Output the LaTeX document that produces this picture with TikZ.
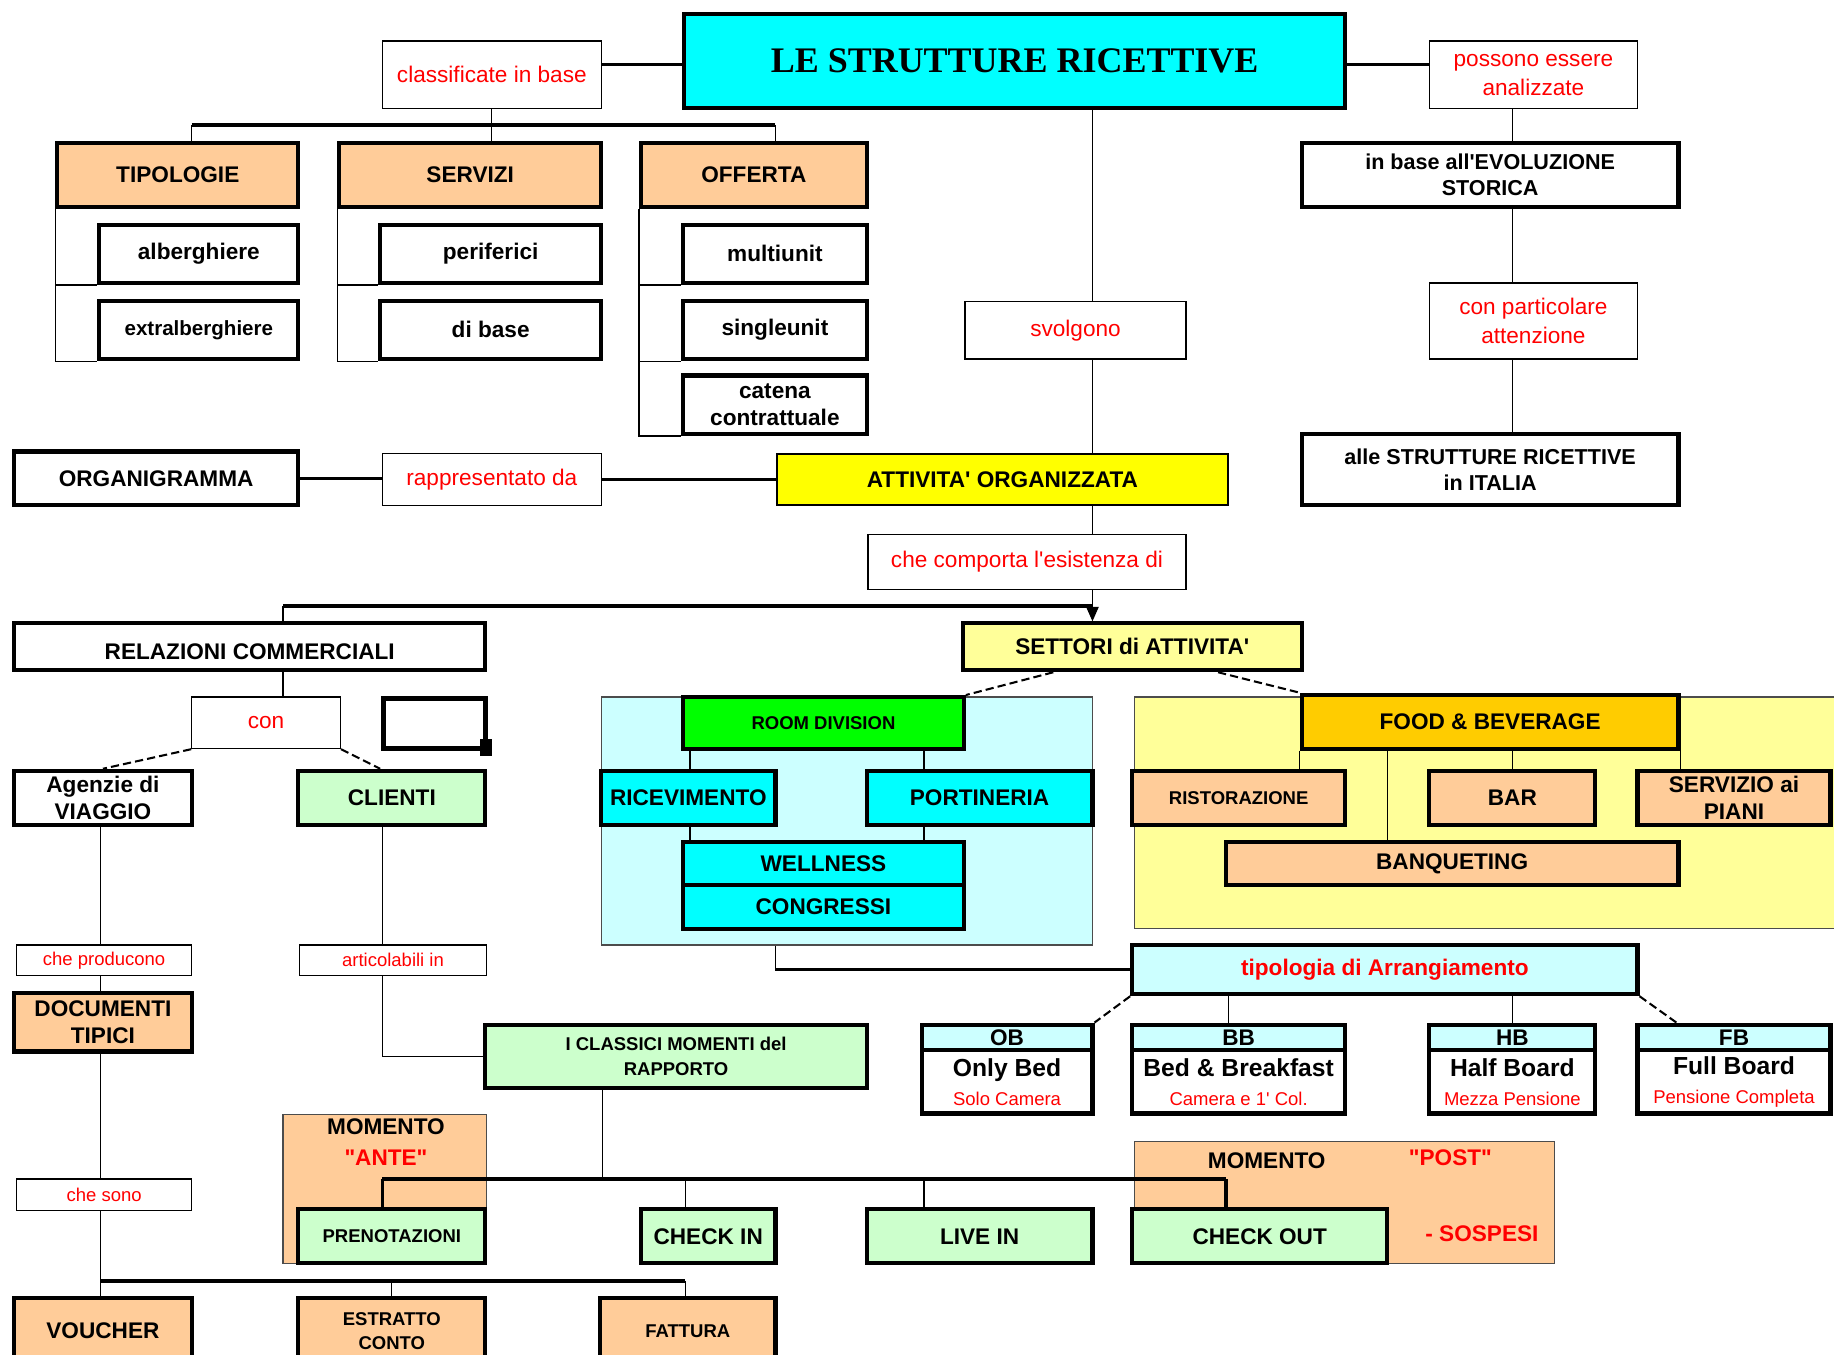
\documentclass[tikz,border=0pt]{standalone}
\usepackage{fontspec}
\setmainfont{Liberation Sans}[Ligatures=TeXOff]
\newfontfamily\titlefamily{Liberation Serif}[Ligatures=TeXOff]
\usetikzlibrary{arrows.meta,calc}
\definecolor{peach}{HTML}{FFCC99}
\definecolor{cyanT}{HTML}{00FFFF}
\definecolor{lcyan}{HTML}{CCFFFF}
\definecolor{lgreen}{HTML}{CCFFCC}
\definecolor{vgreen}{HTML}{00FF00}
\definecolor{vyellow}{HTML}{FFFF00}
\definecolor{lyellow}{HTML}{FFFF99}
\definecolor{gold}{HTML}{FFCC00}
\definecolor{vred}{HTML}{FF0000}
\tikzset{
  box/.style={draw, line width=2pt, align=center, font=\bfseries\fontsize{11}{13}\selectfont},
  sbox/.style={box, font=\bfseries\fontsize{9}{12}\selectfont},
  mbox/.style={draw, line width=1pt, align=center, font=\bfseries\fontsize{11}{13}\selectfont},
  rlab/.style={draw, line width=0.6pt, fill=white, align=center, text=vred, font=\fontsize{11}{14}\selectfont},
  rsmall/.style={rlab, font=\fontsize{9}{11}\selectfont},
  bg/.style={draw=black!70, line width=0.6pt},
  ln/.style={line width=0.6pt},
  bus/.style={line width=1.8pt},
  dsh/.style={line width=1pt, dash pattern=on 4pt off 2pt},
  txt/.style={font=\bfseries\fontsize{11}{13}\selectfont},
}
% box given by two opposite corners: style, name, x1, y1, x2, y2, text
\newcommand\bx[7]{%
  \pgfmathsetmacro\bxw{abs(#5-#3)*0.02}%
  \pgfmathsetmacro\bxh{abs(#6-#4)*0.02}%
  \node[#1, inner sep=0pt, minimum width=\bxw cm, minimum height=\bxh cm, anchor=center]
    (#2) at ({(#3+#5)/2},{(#4+#6)/2}) {#7};}

\begin{document}
\begin{tikzpicture}[x=0.02cm,y=-0.02cm]
\useasboundingbox (0,0) rectangle (1568,1158);
\clip (0,0) rectangle (1568,1158);

% ---------- group backgrounds ----------
\bx{bg, fill=lcyan}{rdbg}{514}{596}{934}{808}{}
\bx{bg, fill=lyellow}{fbbg}{970}{596}{1580}{794}{}
\bx{bg, fill=peach}{ante}{242}{953}{416}{1080}{}
\bx{bg, fill=peach}{post}{970}{976}{1329}{1080}{}

% ---------- top ----------
\bx{box, fill=cyanT}{title}{585}{12}{1150}{92}{\titlefamily\bfseries\fontsize{17.5}{20}\selectfont LE STRUTTURE RICETTIVE}
\bx{rlab}{cl}{327}{35}{514}{93}{classificate in base}
\bx{rlab}{poss}{1222}{35}{1400}{93}{possono essere\\analizzate}
\bx{box, fill=peach}{tip}{49}{122}{255}{177}{TIPOLOGIE}
\bx{box, fill=peach}{ser}{290}{122}{514}{177}{SERVIZI}
\bx{box, fill=peach}{off}{548}{122}{741}{177}{OFFERTA}
\bx{box}{alb}{85}{192}{255}{242}{alberghiere}
\bx{box, font=\bfseries\fontsize{10}{12}\selectfont}{ext}{85}{257}{255}{307}{extralberghiere}
\bx{box}{per}{325}{192}{514}{242}{periferici}
\bx{box}{dib}{325}{257}{514}{307}{di base}
\bx{box}{mul}{584}{192}{741}{242}{multiunit}
\bx{box}{sing}{584}{257}{741}{307}{singleunit}
\bx{box}{cat}{584}{321}{741}{371}{catena\\contrattuale}
\bx{rlab}{svo}{825}{258}{1014}{307}{svolgono}
\bx{box, font=\bfseries\fontsize{10.5}{12.5}\selectfont}{evo}{1113}{122}{1435}{177}{in base all'EVOLUZIONE\\STORICA}
\bx{rlab}{part}{1222}{242}{1400}{307}{con particolare\\attenzione}
\bx{box, font=\bfseries\fontsize{10.5}{12.5}\selectfont}{ita}{1113}{371}{1435}{432}{alle STRUTTURE RICETTIVE\\in ITALIA}
\bx{box}{org}{12}{386}{255}{432}{ORGANIGRAMMA}
\bx{rlab}{rap}{327}{388}{514}{432}{rappresentato da}
\bx{mbox, fill=vyellow}{att}{664}{388}{1050}{432}{ATTIVITA' ORGANIZZATA}
\bx{rlab}{comp}{742}{457}{1014}{504}{che comporta l'esistenza di}

% ---------- left column ----------
\bx{box}{rel}{12}{533}{415}{573}{\raisebox{-0.55em}[0pt][0pt]{RELAZIONI COMMERCIALI}}
\bx{box, fill=lyellow}{set}{823}{533}{1113}{573}{SETTORI di ATTIVITA'}
\bx{rlab}{con}{164}{596}{291}{640}{con}
\draw[line width=2.4pt] (328,597) rectangle (415,640);
\fill (410,632) rectangle (421,646);
\bx{box}{age}{12}{659}{164}{705}{Agenzie di\\VIAGGIO}
\bx{box, fill=lgreen}{cli}{255}{659}{415}{705}{CLIENTI}
\bx{rsmall}{prod}{14}{808}{164}{834}{che producono}
\bx{rsmall}{art}{256}{808}{416}{834}{articolabili in}
\bx{box, fill=peach}{doc}{12}{849}{164}{899}{DOCUMENTI\\TIPICI}
\bx{sbox, fill=lgreen}{cla}{415}{876}{741}{930}{I CLASSICI MOMENTI del\\RAPPORTO}
\bx{rsmall}{sono}{14}{1008}{164}{1035}{che sono}
\bx{box, fill=peach}{vou}{12}{1110}{164}{1166}{VOUCHER}
\bx{sbox, fill=peach}{est}{255}{1110}{415}{1166}{ESTRATTO\\CONTO}
\bx{sbox, fill=peach}{fat}{513}{1110}{663}{1166}{FATTURA}

% ---------- room division ----------
\bx{sbox, fill=vgreen}{rd}{584}{596}{824}{640}{ROOM DIVISION}
\bx{box, fill=cyanT}{ric}{514}{659}{663}{705}{RICEVIMENTO}
\bx{box, fill=cyanT}{por}{741}{659}{934}{705}{PORTINERIA}
\bx{box, fill=cyanT}{wel}{584}{720}{824}{757}{WELLNESS}
\bx{box, fill=cyanT}{cong}{584}{757}{824}{794}{CONGRESSI}

% ---------- food & beverage ----------
\bx{box, fill=gold}{fb}{1113}{594}{1435}{640}{FOOD \& BEVERAGE}
\bx{sbox, fill=peach}{ris}{968}{659}{1150}{705}{RISTORAZIONE}
\bx{box, fill=peach}{bar}{1222}{659}{1364}{705}{BAR}
\bx{box, fill=peach}{spi}{1400}{659}{1565}{705}{SERVIZIO ai\\PIANI}
\bx{box, fill=peach}{ban}{1048}{720}{1435}{757}{BANQUETING}

% ---------- arrangements ----------
\bx{box, fill=lcyan, text=vred}{arr}{968}{808}{1400}{850}{tipologia di Arrangiamento}
\bx{box, fill=lcyan}{obh}{788}{876}{934}{898}{OB}
\bx{box, font=\bfseries\fontsize{12}{14}\selectfont}{obb}{788}{898}{934}{952}{Only Bed\\{\mdseries\fontsize{9}{11}\selectfont\color{vred}Solo Camera}}
\bx{box, fill=lcyan}{bbh}{968}{876}{1150}{898}{BB}
\bx{box, font=\bfseries\fontsize{12}{14}\selectfont}{bbb}{968}{898}{1150}{952}{Bed \& Breakfast\\{\mdseries\fontsize{9}{11}\selectfont\color{vred}Camera e 1' Col.}}
\bx{box, fill=lcyan}{hbh}{1222}{876}{1364}{898}{HB}
\bx{box, font=\bfseries\fontsize{12}{14}\selectfont}{hbb}{1222}{898}{1364}{952}{Half Board\\{\mdseries\fontsize{9}{11}\selectfont\color{vred}Mezza Pensione}}
\bx{box, fill=lcyan}{fbh}{1400}{876}{1565}{898}{FB}
\bx{box, font=\bfseries\fontsize{12}{14}\selectfont}{fbb}{1400}{898}{1565}{952}{Full Board\\{\mdseries\fontsize{9}{11}\selectfont\color{vred}Pensione Completa}}

% ---------- moments ----------
\node[txt] (anteA) at (330,963) {MOMENTO};
\node[txt, text=vred] (anteB) at (330,990) {"ANTE"};
\node[txt] (postA) at (1083,992) {MOMENTO};
\node[txt, text=vred] (postB) at (1240,990) {"POST"};
\node[txt, text=vred] (postC) at (1267,1055) {- SOSPESI};
\bx{sbox, fill=lgreen}{pre}{255}{1034}{415}{1080}{PRENOTAZIONI}
\bx{box, fill=lgreen}{chi}{548}{1034}{663}{1080}{CHECK IN}
\bx{box, fill=lgreen}{liv}{741}{1034}{934}{1080}{LIVE IN}
\bx{box, fill=lgreen}{cho}{968}{1034}{1186}{1080}{CHECK OUT}

% ================= connectors =================
% title and its branches
\coordinate (clp) at ($(cl.north east)!0.35!(cl.south east)$);
\coordinate (psp) at ($(poss.north west)!0.35!(poss.south west)$);
\draw[bus] (clp) -- (clp -| title.west);
\draw[bus] (title.east |- psp) -- (psp);
\coordinate (b1) at (164,107);
\coordinate (b2) at (663,107);
\draw[bus] (b1) -- (b2);
\draw[ln] (cl.south) -- (cl.south |- ser.north);
\draw[ln] (b1) -- (b1 |- tip.north);
\draw[ln] (b2) -- (b2 |- off.north);
\draw[ln] (tip.south west) |- (alb.south west);
\draw[ln] (tip.south west) |- (ext.south west);
\draw[ln] (ser.south west) |- (per.south west);
\draw[ln] (ser.south west) |- (dib.south west);
\draw[ln] (off.south west) |- (mul.south west);
\draw[ln] (off.south west) |- (sing.south west);
\draw[ln] (off.south west) |- (cat.south west);

% central spine
\coordinate (vx) at (934,0);
\draw[ln] (vx |- title.south) -- (vx |- svo.north);
\draw[ln] (vx |- svo.south) -- (vx |- att.north);
\draw[ln] (vx |- att.south) -- (vx |- comp.north);
\draw[ln, -{Triangle[length=7pt,width=6pt]}] (vx |- comp.south) -- (vx |- set.north);
\coordinate (rb) at (242,518);
\draw[bus] (rb -| vx) -- (rb);
\draw[ln] (rb) -- (rb |- rel.north);
\draw[bus] (org.east) -- (org.east -| rap.west);
\draw[bus] (rap.east) -- (att.west);

% historical evolution
\coordinate (vy) at (1293,0);
\draw[ln] (vy |- poss.south) -- (vy |- evo.north);
\draw[ln] (vy |- evo.south) -- (vy |- part.north);
\draw[ln] (vy |- part.south) -- (vy |- ita.north);

% commercial relations
\draw[ln] (rb |- rel.south) -- (rb |- con.north);
\draw[dsh] (con.south west) -- (age.north);
\draw[dsh] (con.south east) -- ($(cli.north)+(-10,0)$);
\coordinate (ax) at (86,0);
\draw[ln] (ax |- age.south) -- (ax |- prod.north);
\draw[ln] (ax |- prod.south) -- (ax |- doc.north);
\draw[ln] (ax |- doc.south) -- (ax |- sono.north);
\coordinate (db) at (86,1095);
\coordinate (db2) at (586,1095);
\draw[ln] (ax |- sono.south) -- (db);
\draw[bus] (db) -- (db2);
\draw[ln] (db) -- (db |- vou.north);
\draw[ln] (est.north |- db) -- (est.north);
\draw[ln] (db2) -- (db2 |- fat.north);
\coordinate (cx) at (327,0);
\draw[ln] (cx |- cli.south) -- (cx |- art.north);
\draw[ln] (cx |- art.south) |- (cla.west);

% sectors
\draw[dsh] ($(set.south west)!0.27!(set.south east)$) -- (rd.north east);
\draw[dsh] ($(set.south west)!0.75!(set.south east)$) -- (fb.north west);
\coordinate (r1) at (590,0);
\coordinate (r2) at (790,0);
\draw[ln] (r1 |- rd.south) -- (r1 |- ric.north);
\draw[ln] (r2 |- rd.south) -- (r2 |- por.north);
\draw[ln] (r1 |- ric.south) -- (r1 |- wel.north);
\draw[ln] (r2 |- por.south) -- (r2 |- wel.north);
\draw[ln] (fb.south west) -- (fb.south west |- ris.north);
\coordinate (f2) at (1186,0);
\draw[ln] (f2 |- fb.south) -- (f2 |- ban.north);
\draw[ln] (bar.north |- fb.south) -- (bar.north);
\draw[ln] (fb.south east) -- (fb.south east |- spi.north);

% arrangements
\coordinate (m1) at (663,0);
\draw[ln] (m1 |- rdbg.south) -- (m1 |- arr.west);
\draw[bus] (m1 |- arr.west) -- (arr.west);
\draw[dsh] (arr.south west) -- (obh.north east);
\coordinate (a2) at (1050,0);
\draw[ln] (a2 |- arr.south) -- (a2 |- bbh.north);
\draw[ln] (hbh.north |- arr.south) -- (hbh.north);
\draw[dsh] (arr.south east) -- ($(fbh.north west)+(35,0)$);

% moments of the relationship
\coordinate (k) at (515,1008);
\coordinate (k1) at (327,1008);
\coordinate (k2) at (1048,1008);
\coordinate (k3) at (586,1008);
\coordinate (k4) at (790,1008);
\draw[ln] (k |- cla.south) -- (k);
\draw[bus] (k1) -- (k2);
\draw[bus] (k1) -- (k1 |- pre.north);
\draw[bus] (k2) -- (k2 |- cho.north);
\draw[ln] (k3) -- (k3 |- chi.north);
\draw[ln] (k4) -- (k4 |- liv.north);
\end{tikzpicture}
\end{document}
